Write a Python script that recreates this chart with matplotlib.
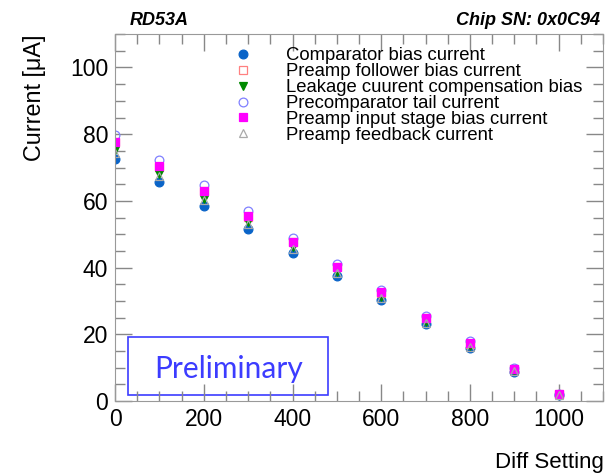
import matplotlib
matplotlib.use("Agg")
import matplotlib.pyplot as plt
from matplotlib.patches import Rectangle
from matplotlib.ticker import MultipleLocator

plt.rcParams['font.family'] = ['Liberation Sans', 'DejaVu Sans']

# data
diff_setting = [0, 100, 200, 300, 400, 500, 600, 700, 800, 900, 1000]
comparator = [72.7, 65.7, 58.6, 51.5, 44.5, 37.5, 30.2, 23.0, 15.9, 8.7, 1.9]
preamp_follower = [77.6, 70.3, 62.9, 55.3, 47.6, 40.2, 32.5, 24.8, 17.2, 9.6, 2.0]
leakage_comp = [75.2, 68.1, 60.7, 53.6, 46.1, 38.7, 31.1, 23.6, 16.4, 9.0, 1.9]
precomp_tail = [79.9, 72.3, 64.7, 57.0, 49.0, 41.2, 33.4, 25.6, 18.0, 9.9, 2.1]
preamp_input = [77.8, 70.4, 63.0, 55.4, 47.7, 40.3, 32.6, 24.9, 17.3, 9.6, 2.0]
preamp_feedback = [74.5, 67.6, 60.2, 53.1, 45.7, 38.4, 30.9, 23.4, 16.2, 8.9, 1.9]

series = [
    ("Comparator bias current", comparator, dict(marker='o', color='#0a64c8', mfc='#0a64c8')),
    ("Preamp follower bias current", preamp_follower, dict(marker='s', color='#ff8080', mfc='none')),
    ("Leakage cuurent compensation bias", leakage_comp, dict(marker='v', color='#008a00', mfc='#008a00')),
    ("Precomparator tail current", precomp_tail, dict(marker='o', color='#8080ff', mfc='none')),
    ("Preamp input stage bias current", preamp_input, dict(marker='s', color='#ff00ff', mfc='#ff00ff')),
    ("Preamp feedback current", preamp_feedback, dict(marker='^', color='#aaaaaa', mfc='none')),
]

fig = plt.figure(figsize=(6.06, 4.74), dpi=100)
ax = fig.add_axes([0.19, 0.154, 0.805, 0.774])

for label, vals, st in series:
    ax.plot(diff_setting, vals, linestyle='none', markersize=6.3, markeredgewidth=0.9,
            label=label, **st)

ax.set_xlim(0, 1100)
ax.set_ylim(0, 110)
ax.xaxis.set_major_locator(MultipleLocator(200))
ax.xaxis.set_minor_locator(MultipleLocator(50))
ax.yaxis.set_major_locator(MultipleLocator(20))
ax.yaxis.set_minor_locator(MultipleLocator(5))
ax.tick_params(which='both', direction='in', top=True, right=True, color='#888888',
               labelsize=16.5, width=1)
ax.tick_params(which='major', length=12, pad=5)
ax.tick_params(which='minor', length=7)
for sp in ax.spines.values():
    sp.set_color('#999999')

ax.set_ylabel("Current [\u03bcA]", fontsize=16.8)
ax.yaxis.set_label_coords(-0.142, 0.826)
fig.text(0.997, 0.025, "Diff Setting", ha='right', va='center', fontsize=16)

fig.text(0.214, 0.957, "RD53A", fontsize=13, fontweight='bold', fontstyle='italic',
         ha='left', va='center')
fig.text(0.99, 0.957, "Chip SN: 0x0C94", fontsize=13, fontweight='bold', fontstyle='italic',
         ha='right', va='center')

leg = ax.legend(loc='upper left', bbox_to_anchor=(0.244, 0.964), frameon=False,
                fontsize=13.3, handletextpad=1.8, labelspacing=-0.06,
                handlelength=1.0, borderaxespad=0, borderpad=0)

# preliminary box
ax.add_patch(Rectangle((0.027, 0.016), 0.41, 0.158, transform=ax.transAxes,
                       fill=False, edgecolor='#3c3cff', linewidth=1.2))
ax.text(0.232, 0.087, "Preliminary", transform=ax.transAxes, ha='center', va='center',
        fontsize=21.5, color='#3c3cff', family=['Lato', 'DejaVu Sans'])

fig.savefig("out.png", dpi=100)
